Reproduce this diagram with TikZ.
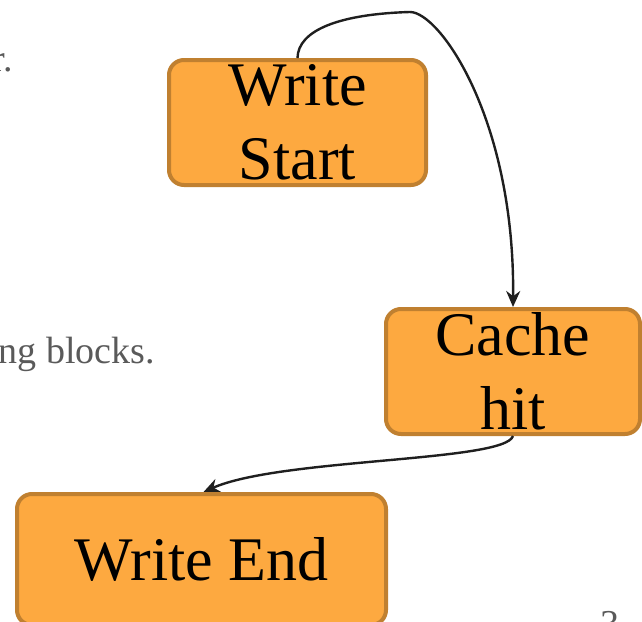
\documentclass[tikz,border=0pt]{standalone}
\usepackage{fontspec}
\setmainfont{Liberation Serif}
\usetikzlibrary{arrows.meta}
\definecolor{boxfill}{RGB}{253,169,64}
\definecolor{boxdraw}{RGB}{192,128,48}
\definecolor{greytext}{RGB}{90,90,90}
\tikzset{
  flowbox/.style={draw=boxdraw, fill=boxfill, line width=4pt, rounded corners=15pt,
    inner sep=0pt, align=center, font=\fontsize{62}{74}\selectfont},
  side/.style={text=greytext, font=\fontsize{38}{44}\selectfont, inner sep=0pt},
  conn/.style={line width=2.4pt, black!88, -{Stealth[length=16pt,width=14pt]}}
}
\begin{document}
\begin{tikzpicture}[x=1pt,y=-1pt]
\useasboundingbox (0,0) rectangle (642,621);
\node[side, anchor=base east] (t1) at (13,71) {r.};
\node[side, anchor=base east] (t2) at (155,363) {ng blocks.};
\node[side, anchor=base] (t3) at (610,636) {3};
\node[flowbox, minimum width=257pt, minimum height=125pt] (ws) at (297.5,122.5) {Write\\Start};
\node[flowbox, minimum width=254pt, minimum height=125pt] (ch) at (513,371.5) {Cache\\hit};
\node[flowbox, minimum width=369pt, minimum height=131pt] (we) at (201.5,559.5) {Write End};
\draw[conn] (ws.north) .. controls (298,30) and (340,14) .. (410,12)
  .. controls (440,12) and (515,120) .. (ch.north);
\draw[conn] (ch.south) .. controls (505,462) and (280,458) .. ([xshift=2pt]we.north);
\end{tikzpicture}
\end{document}
